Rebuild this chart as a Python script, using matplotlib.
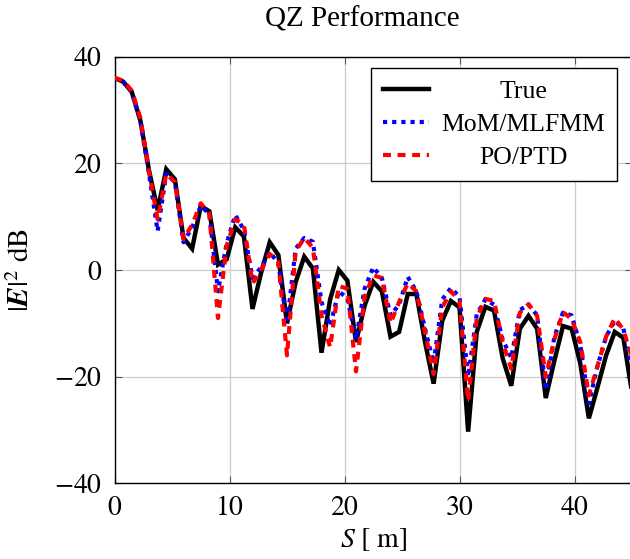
import matplotlib
matplotlib.use("Agg")
import matplotlib.pyplot as plt

plt.rcParams['font.family'] = ['Liberation Serif', 'DejaVu Serif']
plt.rcParams['mathtext.fontset'] = 'stix'

S = [0.0, 0.75, 1.5, 2.25, 3.0, 3.75, 4.5, 5.25, 6.0, 6.75,
     7.5, 8.25, 9.0, 9.75, 10.5, 11.25, 12.0, 12.75, 13.5, 14.25,
     15.0, 15.75, 16.5, 17.25, 18.0, 18.75, 19.5, 20.25, 21.0, 21.75,
     22.5, 23.25, 24.0, 24.75, 25.5, 26.25, 27.0, 27.75, 28.5, 29.25,
     30.0, 30.75, 31.5, 32.25, 33.0, 33.75, 34.5, 35.25, 36.0, 36.75,
     37.5, 38.25, 39.0, 39.75, 40.5, 41.25, 42.0, 42.75, 43.5, 44.25, 45.0]

true_db = [36, 35.3, 33.4, 28, 18.7, 11.2, 18.9, 17, 6, 4,
           12, 11, 1, 2, 8, 6.3, -7.3, -0.5, 5.2, 2.8,
           -10, -2.3, 2.5, 0.3, -15.5, -5.5, 0, -2, -13.5, -6.7,
           -2.2, -4, -12.5, -11.6, -4.5, -4.5, -13.5, -21.3, -9.5, -5.8,
           -7, -30.3, -11.6, -6.9, -7.6, -16.5, -21.7, -11, -8.6, -11,
           -24, -17, -10.5, -11, -17.5, -27.8, -22, -16, -11.6, -12.7, -23]

mom_db = [36, 35.3, 33.4, 28, 18, 7.3, 18, 16.5, 5.2, 8,
          12, 10.5, -4, 5, 10.3, 7.5, -1.5, 0.5, 3.4, 1.2,
          -10, 4, 6, 5.3, -6, -10.5, -4, -5.3, -13, -3.5,
          0.5, -1.5, -8.5, -6.5, -1.3, -4, -11, -17.5, -5.5, -3.4,
          -5, -20, -8.3, -5.5, -6.5, -13, -16.5, -7.5, -6.5, -8.5,
          -22.5, -12.5, -8, -8.5, -14, -25, -18, -12.5, -9.5, -11, -18.5]

po_db = [36, 35.5, 33.6, 28.5, 18.5, 9.5, 18, 16.5, 5.8, 8.5,
         12.5, 10.5, -9, 4.5, 9.5, 8.5, -2.5, 0, 3, 1.5,
         -16, 3.5, 6, 4.2, -8.5, -14.5, -3, -3.5, -19, -5,
         -1, -1.5, -10, -6, -2.5, -4, -11.5, -19.5, -7, -4,
         -5.8, -24.5, -9, -5.4, -5.8, -13.5, -18.5, -8, -6.4, -8.6,
         -20, -13, -7.9, -9.2, -13.5, -23.5, -18, -12.5, -9, -11.2, -16.5]

labels = ['True', 'MoM/MLFMM', 'PO/PTD']

fig = plt.figure(figsize=(6.30, 5.59), dpi=100)
ax = fig.add_axes([114.5/630, 75.6/559, 517.5/630, 426.8/559])

ax.plot(S, true_db, color='black', lw=3.2, solid_joinstyle='miter', label=labels[0], zorder=3)
ax.plot(S, mom_db, color='blue', lw=3.0, linestyle=(0, (1.0, 1.2)), dash_capstyle='butt',
        label=labels[1], zorder=4)
ax.plot(S, po_db, color='red', lw=3.0, linestyle=(0, (1.9, 1.6)), dash_capstyle='butt',
        label=labels[2], zorder=5)

ax.set_xlim(0, 45)
ax.set_ylim(-40, 40)
ax.set_xticks([0, 10, 20, 30, 40])
ax.set_yticks([-40, -20, 0, 20, 40])
ax.set_xticklabels(['$0$', '$10$', '$20$', '$30$', '$40$'])
ax.set_yticklabels(['$-40$', '$-20$', '$0$', '$20$', '$40$'])
ax.tick_params(direction='in', length=5, width=0.8, color='#555555', labelsize=20,
               top=True, right=True)
ax.tick_params(axis='x', pad=9)
ax.tick_params(axis='y', pad=9)
ax.grid(True, color='#cccccc', lw=0.9)
ax.set_axisbelow(True)
for sp in ax.spines.values():
    sp.set_linewidth(1.0)
    sp.set_color('black')

ax.set_title('QZ Performance', fontsize=21, pad=22, x=0.478)
ax.set_xlabel(r'$S\ [\ \mathrm{m}]$', fontsize=20, labelpad=4)
ax.set_ylabel(r'$|\boldsymbol{E}|^2\ \mathrm{dB}$', fontsize=21, labelpad=14)

leg = ax.legend(loc='upper right', bbox_to_anchor=(0.971, 0.973), fontsize=18.5,
                frameon=True, fancybox=False, framealpha=1, edgecolor='black',
                handlelength=1.8, borderpad=0.45, labelspacing=0.4, handletextpad=0.5,
                borderaxespad=0.0)
leg.get_frame().set_linewidth(1.0)

fig.canvas.draw()
renderer = fig.canvas.get_renderer()
texts = leg.get_texts()
widths = [t.get_window_extent(renderer).width for t in texts]
wmax = max(widths)
for t, w in zip(texts, widths):
    t.set_position(((wmax - w) / 2, 0))

fig.savefig('out.png', dpi=100)
